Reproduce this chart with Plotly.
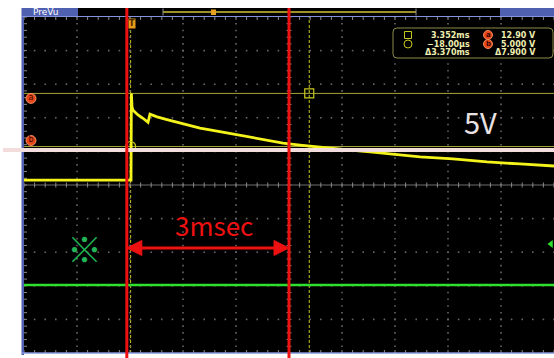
import plotly.graph_objects as go

# ---------------- acquisition / display settings ----------------
T_DIV = 1.0          # ms per horizontal division
V_DIV = 5.0          # V per vertical division (CH1)
N_HDIV, N_VDIV = 10, 10
T_LEFT = -2.03       # time at left graticule edge (ms)
V_BOTTOM = -25.73    # CH1 voltage at bottom graticule edge (V)

# ---------------- waveforms ----------------
# CH1 (yellow): time in ms, voltage in V
ch1_t = [-2.03, -0.30, -0.011, -0.004, 0.008, 0.027, 0.121, 0.215, 0.310, 0.347,
         0.480, 0.668, 0.970, 1.291, 1.612, 1.913, 2.234, 2.555, 2.857, 3.178,
         3.498, 3.800, 4.498, 5.442, 6.064, 6.706, 7.328, 7.970]
ch1_v = [0.0, 0.0, 0.0, 12.9, 10.9, 10.4, 9.7, 9.2, 8.6, 9.8,
         9.4, 9.0, 8.35, 7.75, 7.3, 6.85, 6.4, 5.95, 5.5, 5.2,
         4.9, 4.7, 4.2, 3.45, 3.15, 2.7, 2.4, 2.1]

# CH2 (green): flat level, drawn on the CH1 scale
ch2_t = [-2.03, 7.97]
ch2_v = [-15.6, -15.6]

# ---------------- cursors (a, b) ----------------
cursor_t = [3.352, -0.018]   # ms
cursor_v = [12.90, 5.000]    # V
cursor_names = ["a", "b"]

# ---------------- hand-drawn markup ----------------
marker_t = [-0.09, 2.97]     # red time markers (ms)
span_label = "3msec"
guide_v = 4.48               # level guide (V)
guide_label = "5V"
note_symbol = "※"

# positions of the markup texts (data units)
span_v = -10.1
span_text_pos = (1.555, -6.68)
guide_text_pos = (6.574, 8.79)
note_pos = (-0.88, -9.96)

# ---------------- page geometry ----------------
W, H = 554, 358
ML, MR, MT, MB = 24, 0, 17, 5
PW, PH = W - ML - MR, H - MT - MB
T_RIGHT = T_LEFT + N_HDIV * T_DIV
V_TOP = V_BOTTOM + N_VDIV * V_DIV
PX_T = PW / (T_RIGHT - T_LEFT)     # px per ms
PX_V = PH / (V_TOP - V_BOTTOM)     # px per V


def px(x):
    return (x - ML) / PW


def py(y):
    return (H - MB - y) / PH


YELLOW = "#f4f41c"
GREEN = "#2fe02f"
RED = "#ee1111"
OLIVE = "#a4a43a"
DASH_Y = "#c8c820"
ORANGE = "#e8481a"
BLUE = "#5060b0"
LIGHT_BLUE = "#8494dc"

fig = go.Figure()

# ---------------- graticule ----------------
dot_t, dot_v = [], []
for k in range(1, N_HDIV):
    if k == N_HDIV // 2:
        continue
    t = T_LEFT + k * T_DIV
    for j in range(N_VDIV * 5 + 1):
        dot_t.append(t)
        dot_v.append(V_BOTTOM + j * V_DIV / 5)
for k in range(1, N_VDIV):
    if k == N_VDIV // 2:
        continue
    v = V_BOTTOM + k * V_DIV
    for j in range(N_HDIV * 5 + 1):
        dot_t.append(T_LEFT + j * T_DIV / 5)
        dot_v.append(v)
fig.add_trace(go.Scatter(x=dot_t, y=dot_v, mode="markers",
                         marker=dict(symbol="square", size=1.6, color="#666666"),
                         hoverinfo="skip"))

t_c = T_LEFT + N_HDIV / 2 * T_DIV
v_c = V_BOTTOM + N_VDIV / 2 * V_DIV
fig.add_trace(go.Scatter(x=[T_LEFT, T_RIGHT, None, t_c, t_c],
                         y=[v_c, v_c, None, V_BOTTOM, V_TOP],
                         mode="lines", line=dict(color="#6e6e6e", width=1),
                         hoverinfo="skip"))

# minor ticks on the centre cross and on the frame edges
tick_t, tick_v = [], []
hv = 2.5 / PX_V
ht = 2.5 / PX_T
for j in range(N_HDIV * 5 + 1):
    t = T_LEFT + j * T_DIV / 5
    tick_t += [t, t, None, t, t, None, t, t, None]
    tick_v += [v_c - hv, v_c + hv, None,
               V_TOP, V_TOP - 3 / PX_V, None,
               V_BOTTOM, V_BOTTOM + 3 / PX_V, None]
for j in range(N_VDIV * 5 + 1):
    v = V_BOTTOM + j * V_DIV / 5
    tick_t += [t_c - ht, t_c + ht, None, T_LEFT, T_LEFT + 3 / PX_T, None]
    tick_v += [v, v, None, v, v, None]
fig.add_trace(go.Scatter(x=tick_t, y=tick_v, mode="lines",
                         line=dict(color="#8a8a8a", width=1), hoverinfo="skip"))

# ---------------- waveforms ----------------
fig.add_trace(go.Scatter(x=ch2_t, y=ch2_v, mode="lines",
                         line=dict(color=GREEN, width=2.6), hoverinfo="skip"))
fig.add_trace(go.Scatter(x=ch1_t, y=ch1_v, mode="lines",
                         line=dict(color=YELLOW, width=2.8), hoverinfo="skip"))

# cursor intersection markers
fig.add_trace(go.Scatter(x=[cursor_t[0]], y=[cursor_v[0]], mode="markers",
                         marker=dict(symbol="square-open", size=9, color=DASH_Y,
                                     line=dict(width=1.2)), hoverinfo="skip"))
fig.add_trace(go.Scatter(x=[cursor_t[1]], y=[cursor_v[1]], mode="markers",
                         marker=dict(symbol="circle-open", size=10, color=DASH_Y,
                                     line=dict(width=1.2)), hoverinfo="skip"))

# cursor level badges at the left edge
badge_t = T_LEFT + 7 / PX_T
fig.add_trace(go.Scatter(
    x=[badge_t, badge_t],
    y=[cursor_v[0] - 5 / PX_V, cursor_v[1] + 6 / PX_V],
    mode="markers+text", text=cursor_names, textposition="middle center",
    textfont=dict(family="DejaVu Sans", size=8, color="#3a0800"),
    marker=dict(symbol="circle", size=10, color=ORANGE,
                line=dict(color="#f08a60", width=1)),
    hoverinfo="skip"))

# CH2 position indicator at the right edge
fig.add_trace(go.Scatter(x=[T_RIGHT - 3 / PX_T], y=[-9.5], mode="markers",
                         marker=dict(symbol="triangle-left", size=7, color=GREEN),
                         hoverinfo="skip"))

shapes = []

# cursor lines (under the traces)
for v in cursor_v:
    shapes.append(dict(type="line", layer="below", xref="paper", yref="y",
                       x0=0, x1=1, y0=v, y1=v, line=dict(color=OLIVE, width=1)))
for t, top in zip(cursor_t, [py(17), py(27)]):
    shapes.append(dict(type="line", layer="below", xref="x", yref="paper",
                       x0=t, x1=t, y0=0, y1=top,
                       line=dict(color=DASH_Y, width=1, dash="3px,2px")))

# ---------------- frame and status bar ----------------
shapes += [
    dict(type="rect", xref="paper", yref="paper", layer="above",
         x0=px(21.5), x1=px(24), y0=py(355), y1=py(8),
         fillcolor=BLUE, line=dict(width=0)),
    dict(type="line", xref="paper", yref="paper", layer="above",
         x0=px(22), x1=1, y0=py(353), y1=py(353),
         line=dict(color=LIGHT_BLUE, width=1.5)),
    dict(type="rect", xref="paper", yref="paper", layer="above",
         x0=px(22), x1=1, y0=py(16), y1=py(8),
         fillcolor="black", line=dict(width=0)),
    dict(type="rect", xref="paper", yref="paper", layer="above",
         x0=px(22), x1=px(78), y0=py(16), y1=py(8),
         fillcolor=BLUE, line=dict(width=0)),
    dict(type="rect", xref="paper", yref="paper", layer="above",
         x0=px(500), x1=1, y0=py(16), y1=py(8),
         fillcolor=BLUE, line=dict(width=0)),
    dict(type="line", xref="paper", yref="paper", layer="above",
         x0=px(22), x1=1, y0=py(16.5), y1=py(16.5),
         line=dict(color=LIGHT_BLUE, width=1.2)),
    dict(type="line", xref="paper", yref="paper", layer="above",
         x0=px(163), x1=px(416), y0=py(12), y1=py(12),
         line=dict(color="#9c9028", width=2)),
    dict(type="line", xref="paper", yref="paper", layer="above",
         x0=px(163), x1=px(163), y0=py(15.5), y1=py(8.5),
         line=dict(color="#909090", width=1)),
    dict(type="line", xref="paper", yref="paper", layer="above",
         x0=px(416), x1=px(416), y0=py(15.5), y1=py(8.5),
         line=dict(color="#909090", width=1)),
    dict(type="rect", xref="paper", yref="paper", layer="above",
         x0=px(211), x1=px(216), y0=py(15), y1=py(9.5),
         fillcolor="#e8a020", line=dict(width=0)),
]

# ---------------- hand-drawn markup ----------------
shapes.append(dict(type="line", layer="above", xref="paper", yref="y",
                   x0=px(3), x1=1, y0=guide_v, y1=guide_v,
                   line=dict(color="#f2dcdc", width=4)))
for t in marker_t:
    shapes.append(dict(type="line", layer="above", xref="x", yref="paper",
                       x0=t, x1=t, y0=py(358), y1=py(8),
                       line=dict(color=RED, width=3)))

head_l = 15 / PX_T
head_h = 7.5 / PX_V
t0, t1 = marker_t
shapes.append(dict(type="line", layer="above", xref="x", yref="y",
                   x0=t0 + head_l, x1=t1 - head_l, y0=span_v, y1=span_v,
                   line=dict(color=RED, width=3)))
shapes.append(dict(type="path", layer="above", xref="x", yref="y",
                   path=f"M {t0},{span_v} L {t0 + head_l},{span_v + head_h} "
                        f"L {t0 + head_l},{span_v - head_h} Z",
                   fillcolor=RED, line=dict(color=RED, width=1)))
shapes.append(dict(type="path", layer="above", xref="x", yref="y",
                   path=f"M {t1},{span_v} L {t1 - head_l},{span_v + head_h} "
                        f"L {t1 - head_l},{span_v - head_h} Z",
                   fillcolor=RED, line=dict(color=RED, width=1)))

# ---------------- cursor readout panel ----------------
bx0, bx1, by0, by1, r = 393, 553, 28, 58, 4
rx, ry = r / PW, r / PH
X0, X1, Y0, Y1 = px(bx0), px(bx1), py(by1), py(by0)
panel = (f"M {X0 + rx},{Y0} L {X1 - rx},{Y0} Q {X1},{Y0} {X1},{Y0 + ry} "
         f"L {X1},{Y1 - ry} Q {X1},{Y1} {X1 - rx},{Y1} L {X0 + rx},{Y1} "
         f"Q {X0},{Y1} {X0},{Y1 - ry} L {X0},{Y0 + ry} Q {X0},{Y0} {X0 + rx},{Y0} Z")
shapes.append(dict(type="path", layer="above", xref="paper", yref="paper",
                   path=panel, fillcolor="black", line=dict(color="#8c8c48", width=1)))
shapes.append(dict(type="rect", layer="above", xref="paper", yref="paper",
                   x0=px(404.5), x1=px(411.5), y0=py(38.5), y1=py(31.5),
                   line=dict(color=DASH_Y, width=1)))
shapes.append(dict(type="circle", layer="above", xref="paper", yref="paper",
                   x0=px(404), x1=px(412), y0=py(48), y1=py(40),
                   line=dict(color=DASH_Y, width=1)))
for row_y in (35, 44):
    shapes.append(dict(type="circle", layer="above", xref="paper", yref="paper",
                       x0=px(483.5), x1=px(492.5), y0=py(row_y + 4.5), y1=py(row_y - 4.5),
                       fillcolor=ORANGE, line=dict(color="#f08a60", width=1)))


def fmt_time(ms):
    if abs(ms) < 1:
        return f"{ms * 1000:.2f}µs".replace("-", "−")
    return f"{ms:.3f}ms"


def fmt_volt(v):
    return f"{v:.2f} V" if abs(v) >= 10 else f"{v:.3f} V"


RO_FONT = dict(family="DejaVu Sans", size=8, color="#eeeeb0")
annotations = []
rows = [
    (fmt_time(cursor_t[0]), fmt_volt(cursor_v[0]), 35),
    (fmt_time(cursor_t[1]), fmt_volt(cursor_v[1]), 44),
    ("Δ" + fmt_time(cursor_t[0] - cursor_t[1]),
     "Δ" + fmt_volt(cursor_v[0] - cursor_v[1]), 53),
]
for ttxt, vtxt, row_y in rows:
    annotations.append(dict(xref="paper", yref="paper", x=px(472), y=py(row_y),
                            xanchor="right", yanchor="middle", showarrow=False,
                            text=f"<b>{ttxt}</b>", font=RO_FONT))
    annotations.append(dict(xref="paper", yref="paper", x=px(538), y=py(row_y),
                            xanchor="right", yanchor="middle", showarrow=False,
                            text=f"<b>{vtxt}</b>", font=RO_FONT))
for name, row_y in zip(cursor_names, (35, 44)):
    annotations.append(dict(xref="paper", yref="paper", x=px(488), y=py(row_y),
                            xanchor="center", yanchor="middle", showarrow=False,
                            text=f"<b>{name}</b>",
                            font=dict(family="DejaVu Sans", size=7, color="#3a0800")))

# status bar label and trigger flag
annotations.append(dict(xref="paper", yref="paper", x=px(31), y=py(12),
                        xanchor="left", yanchor="middle", showarrow=False,
                        text="PreVu", font=dict(family="DejaVu Sans", size=9, color="white")))
annotations.append(dict(xref="x", yref="paper", x=0, y=py(23.5),
                        xanchor="center", yanchor="middle", showarrow=False,
                        text="<b>T</b>", bgcolor="#e89b1a", borderpad=0,
                        font=dict(family="DejaVu Sans", size=8, color="#4a2800")))

# markup texts
MARKUP = "Noto Sans CJK JP, DejaVu Sans Condensed, sans-serif"
annotations.append(dict(xref="x", yref="y", x=span_text_pos[0], y=span_text_pos[1],
                        showarrow=False, text=span_label,
                        font=dict(family=MARKUP, size=26, color=RED)))
annotations.append(dict(xref="x", yref="y", x=guide_text_pos[0], y=guide_text_pos[1],
                        showarrow=False, text=guide_label,
                        font=dict(family=MARKUP, size=29, color="#eae2e2")))
annotations.append(dict(xref="x", yref="y", x=note_pos[0], y=note_pos[1],
                        showarrow=False, text=f"<b>{note_symbol}</b>",
                        font=dict(family="Noto Sans CJK JP", size=35, color="#22b455")))

fig.update_layout(
    width=W, height=H,
    margin=dict(l=ML, r=MR, t=MT, b=MB, pad=0),
    paper_bgcolor="white", plot_bgcolor="black",
    showlegend=False,
    xaxis=dict(range=[T_LEFT, T_RIGHT], visible=False, fixedrange=True),
    yaxis=dict(range=[V_BOTTOM, V_TOP], visible=False, fixedrange=True),
    shapes=shapes, annotations=annotations,
)

fig.write_html("out.html", config={"displayModeBar": False, "staticPlot": True})
